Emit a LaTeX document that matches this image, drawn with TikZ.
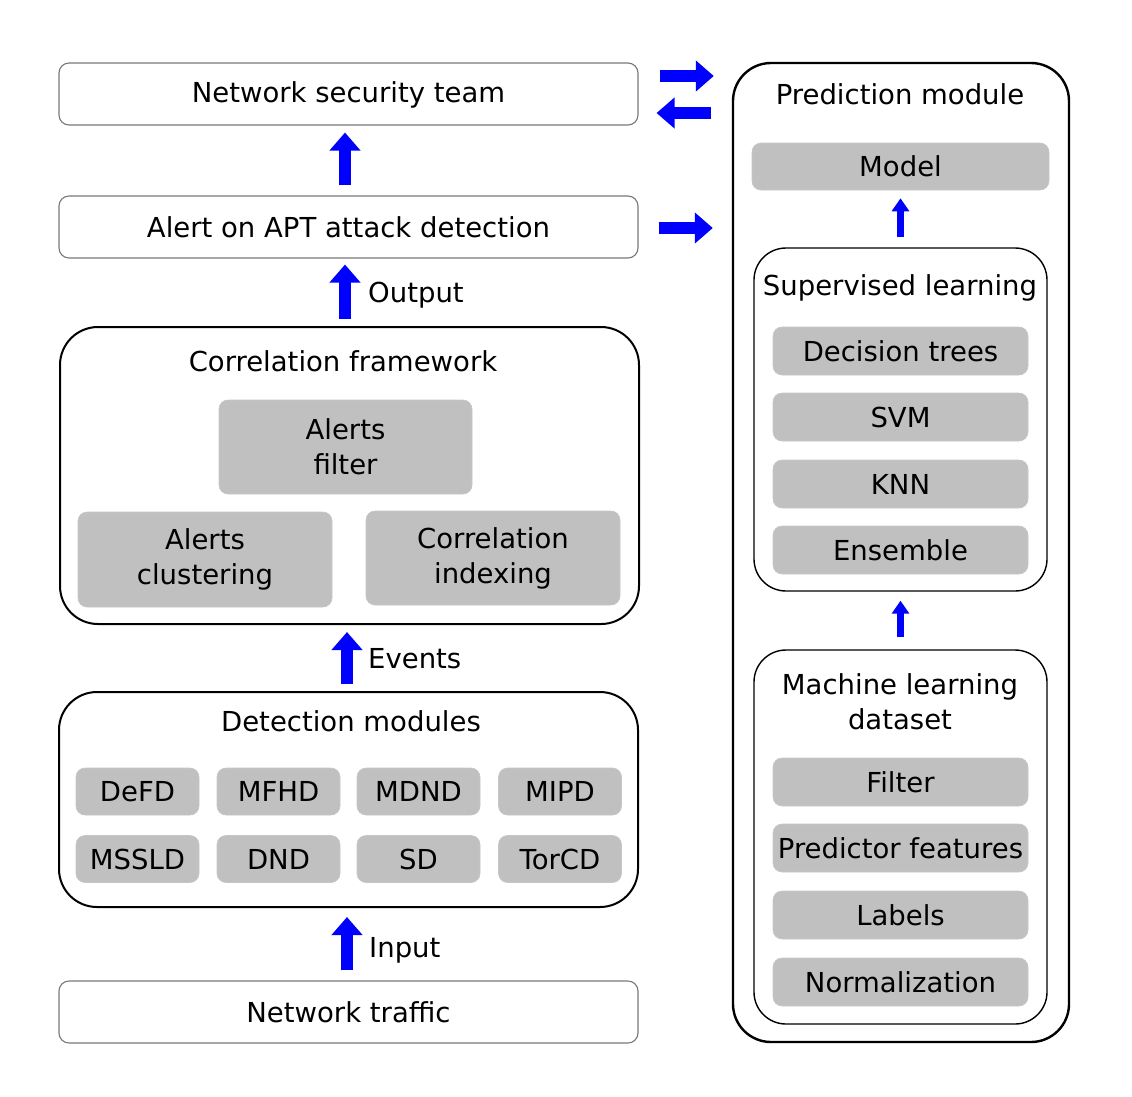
\documentclass[tikz,border=0pt]{standalone}
\usepackage{fontspec}
\setmainfont{DejaVu Sans}
\usetikzlibrary{arrows.meta}
\definecolor{boxgray}{RGB}{192,192,192}
\definecolor{thinline}{RGB}{120,120,120}
\definecolor{arrowblue}{RGB}{0,0,255}
\tikzset{
  every node/.style={font=\fontsize{27.5}{35}\selectfont, inner sep=0pt, text=black},
  thinbox/.style={draw=thinline, line width=1.1pt, rounded corners=10pt, fill=white},
  bigframe/.style={draw=black, line width=2pt, rounded corners=38pt},
  midframe/.style={draw=black, line width=1.4pt, rounded corners=32pt},
  graybox/.style={fill=boxgray, draw=boxgray!90!white, line width=0.6pt, rounded corners=9pt, align=center},
  upbig/.style={draw=arrowblue, line width=12pt, -{Triangle[width=30pt,length=18pt]}},
  upsmall/.style={draw=arrowblue, line width=6.5pt, -{Triangle[width=17pt,length=13pt]}},
  lbl/.style={anchor=west},
}
\begin{document}
\begin{tikzpicture}[x=1pt,y=-1pt]
\useasboundingbox (0,0) rectangle (1132,1096);
% left column
\node[thinbox, minimum width=579pt, minimum height=62pt, text depth=0.46em] (nst) at (348.5,94) {Network security team};
\node[thinbox, minimum width=579pt, minimum height=62pt] (alert) at (348.5,227) {Alert on APT attack detection};
\node[bigframe, minimum width=579pt, minimum height=297pt] (corr) at (349.5,475.5) {};
\node (corrt) at (343,361) {Correlation framework};
\node[graybox, minimum width=253pt, minimum height=94pt] (filt) at (345.5,447) {Alerts\\filter};
\node[graybox, minimum width=254pt, minimum height=95pt] (clus) at (205,559.5) {Alerts\\clustering};
\node[graybox, minimum width=254pt, minimum height=94pt] (cidx) at (493,558) {Correlation\\indexing};
\node[bigframe, minimum width=579pt, minimum height=215pt] (det) at (348.5,799.5) {};
\node (dett) at (351,721) {Detection modules};
\foreach \n/\t/\x/\y in {d1/DeFD/137.5/791.5, d2/MFHD/278.5/791.5, d3/MDND/418.5/791.5, d4/MIPD/560/791.5,
  d5/MSSLD/137.5/859, d6/DND/278.5/859, d7/SD/418.5/859, d8/TorCD/560/859}{
  \node[graybox, minimum width=123pt, minimum height=47pt] (\n) at (\x,\y) {\t};
}
\node[thinbox, minimum width=579pt, minimum height=62pt] (traffic) at (348.5,1012) {Network traffic};
% right column
\node[draw=black, line width=2.4pt, rounded corners=38pt, minimum width=336pt, minimum height=979pt] (pred) at (901,552.5) {};
\node (predt) at (900,94) {Prediction module};
\node[graybox, minimum width=297pt, minimum height=47pt] (model) at (900.5,166.5) {Model};
\node[midframe, minimum width=293pt, minimum height=343pt] (sup) at (900.5,419.5) {};
\node (supt) at (900,288) {Supervised learning};
\foreach \n/\t/\y in {s1/Decision trees/351, s2/SVM/417, s3/KNN/484, s4/Ensemble/550}{
  \node[graybox, minimum width=255pt, minimum height=48pt] (\n) at (900.5,\y) {\t};
}
\node[midframe, minimum width=293pt, minimum height=374pt] (mld) at (900.5,837) {};
\node[align=center] (mldt) at (900,702) {Machine learning\\dataset};
\foreach \n/\t/\y in {m1/Filter/782, m2/Predictor features/848, m3/Labels/915, m4/Normalization/982}{
  \node[graybox, minimum width=255pt, minimum height=48pt] (\n) at (900.5,\y) {\t};
}
% vertical arrows left
\draw[upbig, shorten <=10pt, shorten >=7pt] ([xshift=-3.5pt]alert.north) -- ([xshift=-3.5pt]nst.south);
\draw[upbig, shorten <=7pt, shorten >=6pt] ([xshift=-4.5pt]corr.north) -- ([xshift=-3.5pt]alert.south);
\draw[upbig, shorten <=7pt, shorten >=7pt] ([xshift=-1.5pt]det.north) -- ([xshift=-2.5pt]corr.south);
\draw[upbig, shorten <=10pt, shorten >=9pt] ([xshift=-1.5pt]traffic.north) -- ([xshift=-1.5pt]det.south);
\node[lbl] (outl) at (368,295) {Output};
\node[lbl] (evl) at (368,659) {Events};
\node[lbl] (inl) at (369,950) {Input};
% vertical arrows right
\draw[upsmall, shorten <=10pt, shorten >=8pt] (sup.north) -- (model.south);
\draw[upsmall, shorten <=12pt, shorten >=9pt] (mld.north) -- (sup.south);
% horizontal arrows
\coordinate (h1) at ([yshift=18pt]nst.east);
\coordinate (h2) at ([yshift=-19pt]nst.east);
\coordinate (h3) at ([yshift=-1pt]alert.east);
\draw[upbig, shorten <=21pt, shorten >=18pt] (h1) -- (h1 -| pred.west);
\draw[upbig, shorten <=21pt, shorten >=18pt] (h2 -| pred.west) -- (h2);
\draw[upbig, shorten <=20pt, shorten >=19pt] (h3) -- (h3 -| pred.west);
\end{tikzpicture}
\end{document}
